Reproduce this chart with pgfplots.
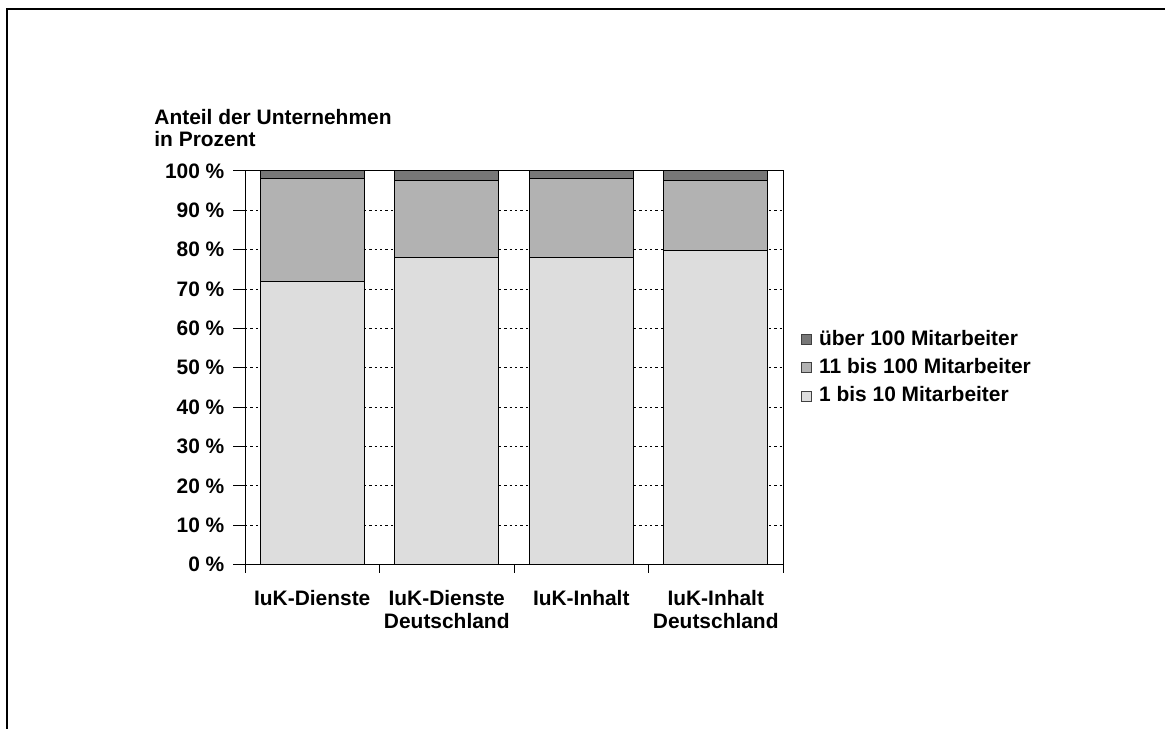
\documentclass[border=0pt]{standalone}
\usepackage{pgfplots}
\pgfplotsset{compat=1.18}
\usepackage{fontspec}
\setmainfont{Liberation Sans}

\definecolor{klein}{HTML}{DDDDDD}
\definecolor{mittel}{HTML}{B2B2B2}
\definecolor{gross}{HTML}{777777}

\newcommand{\chartfont}{\fontsize{10.5}{11.2}\selectfont\bfseries}

\begin{document}
\begin{tikzpicture}[x=0.5bp,y=0.5bp]
\useasboundingbox (0,0) rectangle (1165,728);
% frame around the chart
\draw[line width=1bp] (6.7,-30) -- (6.7,719) -- (1200,719);

% axis title
\node[anchor=base west, inner sep=0, font=\chartfont] at (154,603.7) {Anteil der Unternehmen};
\node[anchor=base west, inner sep=0, font=\chartfont] at (154,581.3) {in Prozent};

\coordinate (axorig) at (245,163.5);

\begin{axis}[
  at={(axorig)}, anchor=south west,
  scale only axis,
  width=269bp, height=196.75bp,
  xmin=-0.5, xmax=3.5,
  ymin=0, ymax=100,
  ybar stacked,
  bar width=0.773,
  axis line style={black, line width=0.5bp},
  tick style={black, line width=0.5bp},
  tick align=outside,
  xtick pos=lower, ytick pos=left,
  xtick={0,1,2,3},
  xticklabels={IuK-Dienste, {IuK-Dienste\\Deutschland}, IuK-Inhalt, {IuK-Inhalt\\Deutschland}},
  major x tick style={draw=none},
  minor xtick={-0.5,0.5,1.5,2.5,3.5},
  minor tick length=4bp,
  ytick={0,10,...,100},
  yticklabels={0 \%,10 \%,20 \%,30 \%,40 \%,50 \%,60 \%,70 \%,80 \%,90 \%,100 \%},
  major tick length=6bp,
  ymajorgrids,
  major grid style={black, line width=0.5bp, dash pattern=on 1.2bp off 1.5bp},
  xticklabel style={font=\chartfont, align=center, anchor=north, yshift=-3.5bp},
  yticklabel style={font=\chartfont, anchor=east, xshift=-0.8bp},
  legend style={at={(1.033,0.5)}, anchor=west, draw=none, fill=none,
    inner sep=0pt, font=\chartfont, row sep=3bp, column sep=2.5bp,
    nodes={inner sep=1bp}},
  legend cell align=left,
  reverse legend,
  legend image code/.code={\draw[#1, draw=black!75, line width=0.5bp] (0bp,-2.6bp) rectangle (5bp,2.4bp);},
]
\addplot[fill=klein, draw=black, line width=0.5bp] coordinates {(0,72.0) (1,77.9) (2,78.1) (3,79.7)};
\addplot[fill=mittel, draw=black, line width=0.5bp] coordinates {(0,26.2) (1,19.7) (2,19.9) (3,17.8)};
\addplot[fill=gross, draw=black, line width=0.5bp] coordinates {(0,1.8) (1,2.4) (2,2.0) (3,2.5)};
\legend{1 bis 10 Mitarbeiter, 11 bis 100 Mitarbeiter, über 100 Mitarbeiter}
\end{axis}
\end{tikzpicture}
\end{document}
